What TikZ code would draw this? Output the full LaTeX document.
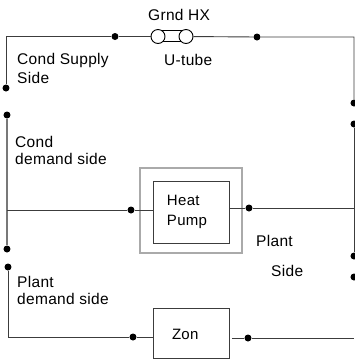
\documentclass[tikz,border=0pt]{standalone}
\usepackage{fontspec}
\setmainfont{Liberation Sans}[LetterSpace=2]
\usetikzlibrary{positioning}
\definecolor{pipeDark}{RGB}{60,60,60}
\definecolor{pipeGrey}{RGB}{120,120,120}
\definecolor{boxGrey}{RGB}{170,170,170}
\tikzset{
    pipe/.style={draw=pipeDark, line width=0.9pt},
    dotmark/.style={circle, fill=black, inner sep=0pt, minimum size=7pt},
    unitbox/.style={draw=pipeDark, line width=1pt, fill=white, font=\fontsize{15}{20}\selectfont},
    hxend/.style={circle, draw=black, line width=0.9pt, fill=white, inner sep=0pt, minimum size=14pt},
    lbl/.style={font=\fontsize{15.5}{18}\selectfont, align=left, anchor=west, inner sep=0pt}
}

\begin{document}
\begin{tikzpicture}[x=1pt, y=-1pt]
    \useasboundingbox (0,0) rectangle (355,360);

    % ground loop
    \node[draw=black, line width=0.9pt, minimum width=28pt, minimum height=10.5pt, inner sep=0pt] (tube) at (172,36) {};
    \node[hxend] (hxa) at (158,36.5) {};
    \node[hxend] (hxb) at (186,36.5) {};

    % boxes
    \draw[draw=boxGrey, line width=1.1pt] (140,168) rectangle (242,253);
    \node[unitbox, minimum width=76pt, minimum height=62pt, text width=50pt, inner xsep=13pt, align=left] (pump) at (192,212) {Heat\\Pump};
    \node[unitbox, minimum width=76pt, minimum height=50pt, text width=40pt, inner xsep=18pt, text height=14pt, align=left] (zon) at (192,333) {Zon};

    % corners and free ends
    \coordinate (tl) at (6,36.5);
    \coordinate (tr) at (354,37);
    \node[dotmark] (supend) at (6,88) {};
    \node[dotmark] (dmdtop) at (7,115) {};
    \node[dotmark] (dmdend) at (7,249) {};
    \node[dotmark] (plttop) at (8,267) {};
    \coordinate (bl) at (8,337);
    \coordinate (tee) at (7,210);
    \node[dotmark] (rtop) at (354,103) {};
    \node[dotmark] (rmid) at (354,124) {};
    \node[dotmark] (rlow) at (354,256) {};
    \node[dotmark] (rbot) at (354,277) {};
    \coordinate (rtee) at (354,208);
    \coordinate (rzon) at (354,338);
    \coordinate (zonout) at (232,338);

    % dots on the lines
    \node[dotmark] (d1) at (115,36.5) {};
    \node[dotmark] (d2) at (257,37) {};
    \node[dotmark] (d3) at (131,210) {};
    \node[dotmark] (d4) at (249,208) {};
    \node[dotmark] (d5) at (133,337) {};
    \node[dotmark] (d6) at (248,338) {};

    % pipes
    \draw[pipe] (supend) -- (tl) -- (d1) -- (hxa);
    \draw[pipe] (hxb) -- (d2) -- (tr) -- (rtop);
    \draw[pipe] (rmid) -- (rlow);
    \draw[pipe, draw=pipeGrey, line width=1.3pt] (dmdtop) -- (dmdend);
    \draw[pipe] (tee) -- (d3) -- (d3 -| pump.west);
    \draw[pipe] (d4 -| pump.east) -- (d4) -- (rtee);
    \draw[pipe] (plttop) -- (bl) -- (d5) -- (d5 -| zon.west);
    \draw[pipe] (zonout) -- (d6) -- (rzon);

    % labels
    \node[lbl] (grnd) at (148,15) {Grnd HX};
    \node[lbl] (utube) at (164,60) {U-tube};
    \node[lbl] (supply) at (17,60) {Cond Supply};
    \node[lbl] (supply2) at (17,78) {Side};
    \node[lbl] (cond) at (15,142) {Cond};
    \node[lbl] (cond2) at (15,159) {demand side};
    \node[lbl] (plant) at (17,282) {Plant};
    \node[lbl] (plant2) at (17,299) {demand side};
    \node[lbl] (pside) at (256,241) {Plant};
    \node[lbl] (pside2) at (271,271) {Side};
\end{tikzpicture}
\end{document}
